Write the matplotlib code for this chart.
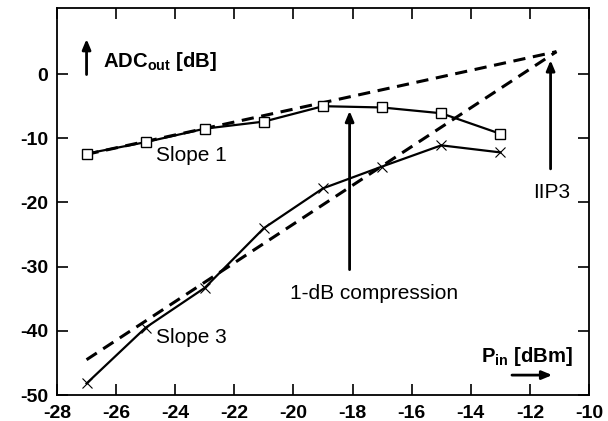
import matplotlib
matplotlib.use("Agg")
import matplotlib.pyplot as plt

plt.rcParams['font.family'] = ['Liberation Sans', 'DejaVu Sans']
plt.rcParams['mathtext.fontset'] = 'custom'
plt.rcParams['mathtext.rm'] = 'Liberation Sans'
plt.rcParams['mathtext.bf'] = 'Liberation Sans:bold'
plt.rcParams['axes.unicode_minus'] = False

# Data
pin = [-27, -25, -23, -21, -19, -17, -15, -13]
fund = [-12.4, -10.6, -8.5, -7.4, -5.0, -5.2, -6.1, -9.3]
im3 = [-48.2, -39.5, -33.3, -24.0, -17.8, -14.4, -11.1, -12.2]
slope1_x = [-27, -11.1]
slope1_y = [-12.5, 3.5]
slope3_x = [-27, -11.1]
slope3_y = [-44.5, 3.5]
xticks = list(range(-28, -9, 2))
yticks = [0, -10, -20, -30, -40, -50]

fig = plt.figure(figsize=(6.08, 4.21), dpi=100)
ax = fig.add_axes([57/608, 1-395/421, (589-57)/608, (395-8)/421])

ax.plot(slope1_x, slope1_y, color='black', lw=2.2, ls=(0, (4, 2.5)))
ax.plot(slope3_x, slope3_y, color='black', lw=2.2, ls=(0, (4, 2.5)))
ax.plot(pin, fund, color='black', lw=1.6, marker='s', ms=6.5,
        mfc='white', mec='black', mew=1.0)
ax.plot(pin, im3, color='black', lw=1.6, marker='x', ms=7,
        mec='black', mew=0.8)

ax.set_xlim(-28, -10)
ax.set_ylim(-50, 10.3)
ax.set_xticks(xticks)
ax.set_yticks(yticks)
ax.tick_params(direction='in', length=8, width=1.2, top=True, right=True,
               labelsize=14)
ax.tick_params(axis='y', pad=6.5)
ax.tick_params(axis='x', pad=7)
for lab in ax.get_xticklabels() + ax.get_yticklabels():
    lab.set_fontweight('bold')
for s in ax.spines.values():
    s.set_linewidth(1.3)

arrow_kw = dict(arrowstyle='-|>,head_width=0.25,head_length=0.6', color='black', lw=2)
ax.annotate('', xy=(-18.1, -5.3), xytext=(-18.1, -30.9), arrowprops=arrow_kw)
ax.annotate('', xy=(-11.3, 2.6), xytext=(-11.3, -15.2), arrowprops=arrow_kw)
ax.annotate('', xy=(-27.0, 5.9), xytext=(-27.0, -0.5), arrowprops=arrow_kw)
ax.annotate('', xy=(-11.15, -46.9), xytext=(-12.7, -46.9), arrowprops=arrow_kw)

ax.text(-26.45, 1.9, r'ADC$_\mathbf{out}$ [dB]', fontsize=14.6, fontweight='bold',
        ha='left', va='center')
ax.text(-13.65, -44.0, r'P$_\mathbf{in}$ [dBm]', fontsize=14.6, fontweight='bold',
        ha='left', va='center')
ax.text(-24.65, -12.7, 'Slope 1', fontsize=15, ha='left', va='center')
ax.text(-24.65, -41.1, 'Slope 3', fontsize=15, ha='left', va='center')
ax.text(-20.1, -34.2, '1-dB compression', fontsize=15, ha='left', va='center')
ax.text(-11.9, -18.4, 'IIP3', fontsize=15, ha='left', va='center')

fig.savefig('out.png', dpi=100)
